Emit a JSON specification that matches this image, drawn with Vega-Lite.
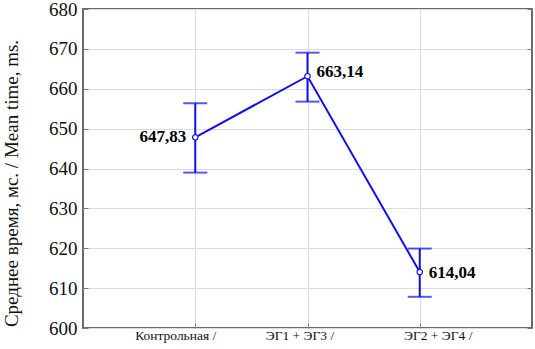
{
  "$schema": "https://vega.github.io/schema/vega-lite/v6.json",
  "width": 449,
  "height": 319,
  "autosize": "none",
  "padding": {"left": 83, "top": 9, "right": 3, "bottom": 21},
  "background": "white",
  "config": {
    "view": {"stroke": "#6a6a6a", "strokeWidth": 2},
    "font": "Liberation Serif",
    "axisY": {
      "labelOverlap": false,
      "labelFont": "Liberation Serif",
      "labelFontSize": 19,
      "labelColor": "#111",
      "labelPadding": 11,
      "tickSize": -5,
      "tickColor": "#777",
      "domain": false,
      "grid": true,
      "gridColor": "#dcdcdc",
      "titleFont": "Liberation Serif",
      "titleFontSize": 19,
      "titleFontWeight": "normal",
      "titleColor": "#111",
      "titleX": -72,
      "titleY": 174,
      "titleBaseline": "middle"
    }
  },
  "resolve": {"axis": {"y": "independent"}},
  "data": {
    "values": [
      {"group": "Контрольная /", "mean": 647.83, "lo": 638.97, "hi": 656.37, "label": "647,83"},
      {"group": "ЭГ1 + ЭГ3 /", "mean": 663.14, "lo": 656.77, "hi": 669.05, "label": "663,14"},
      {"group": "ЭГ2 + ЭГ4 /", "mean": 614.04, "lo": 607.82, "hi": 619.92, "label": "614,04"}
    ]
  },
  "encoding": {
    "x": {
      "field": "group",
      "type": "nominal",
      "sort": null,
      "scale": {"type": "point", "padding": 1},
      "axis": {
        "title": null,
        "labelAngle": 0,
        "labelFont": "Liberation Serif",
        "labelFontSize": 13.5,
        "labelColor": "#111",
        "labelPadding": 5,
        "tickSize": -5,
        "tickColor": "#777",
        "domain": false,
        "grid": true,
        "gridColor": "#dcdcdc",
        "labelOffset": {
          "condition": [
            {"test": "datum.value == 'Контрольная /'", "value": -20},
            {"test": "datum.value == 'ЭГ1 + ЭГ3 /'", "value": -8}
          ],
          "value": 18
        }
      }
    }
  },
  "layer": [
    {
      "mark": {"type": "rule", "color": "#1010ee", "strokeWidth": 2},
      "encoding": {
        "y": {
          "field": "lo",
          "type": "quantitative",
          "scale": {"domain": [600, 680], "nice": false, "zero": false},
          "axis": {"title": "Среднее время, мс. / Mean time, ms.", "values": [600, 610, 620, 630, 640, 650, 660, 670, 680], "tickCount": 9}
        },
        "y2": {"field": "hi"}
      }
    },
    {
      "mark": {"type": "tick", "color": "#1010ee", "thickness": 2, "size": 24},
      "encoding": {"y": {"field": "lo", "type": "quantitative", "axis": {"orient": "right", "title": null, "labels": false, "grid": false, "values": [600, 610, 620, 630, 640, 650, 660, 670, 680], "tickCount": 9}}}
    },
    {
      "mark": {"type": "tick", "color": "#1010ee", "thickness": 2, "size": 24},
      "encoding": {"y": {"field": "hi", "type": "quantitative", "axis": null}}
    },
    {
      "mark": {"type": "line", "color": "#1010ee", "strokeWidth": 2},
      "encoding": {"y": {"field": "mean", "type": "quantitative", "axis": null}}
    },
    {
      "mark": {"type": "point", "shape": "circle", "size": 30, "color": "#1010ee", "filled": false, "fill": "white", "strokeWidth": 1.2, "opacity": 1},
      "encoding": {"y": {"field": "mean", "type": "quantitative", "axis": null}}
    },
    {
      "transform": [{"filter": "datum.group == 'Контрольная /'"}],
      "mark": {"type": "text", "align": "right", "baseline": "middle", "dx": -9, "dy": 0, "fontSize": 17, "fontWeight": "bold", "font": "Liberation Serif", "color": "#000"},
      "encoding": {"y": {"field": "mean", "type": "quantitative", "axis": null}, "text": {"field": "label"}}
    },
    {
      "transform": [{"filter": "datum.group == 'ЭГ1 + ЭГ3 /'"}],
      "mark": {"type": "text", "align": "left", "baseline": "middle", "dx": 9, "dy": -4, "fontSize": 17, "fontWeight": "bold", "font": "Liberation Serif", "color": "#000"},
      "encoding": {"y": {"field": "mean", "type": "quantitative", "axis": null}, "text": {"field": "label"}}
    },
    {
      "transform": [{"filter": "datum.group == 'ЭГ2 + ЭГ4 /'"}],
      "mark": {"type": "text", "align": "left", "baseline": "middle", "dx": 9, "dy": 1, "fontSize": 17, "fontWeight": "bold", "font": "Liberation Serif", "color": "#000"},
      "encoding": {"y": {"field": "mean", "type": "quantitative", "axis": null}, "text": {"field": "label"}}
    }
  ]
}
